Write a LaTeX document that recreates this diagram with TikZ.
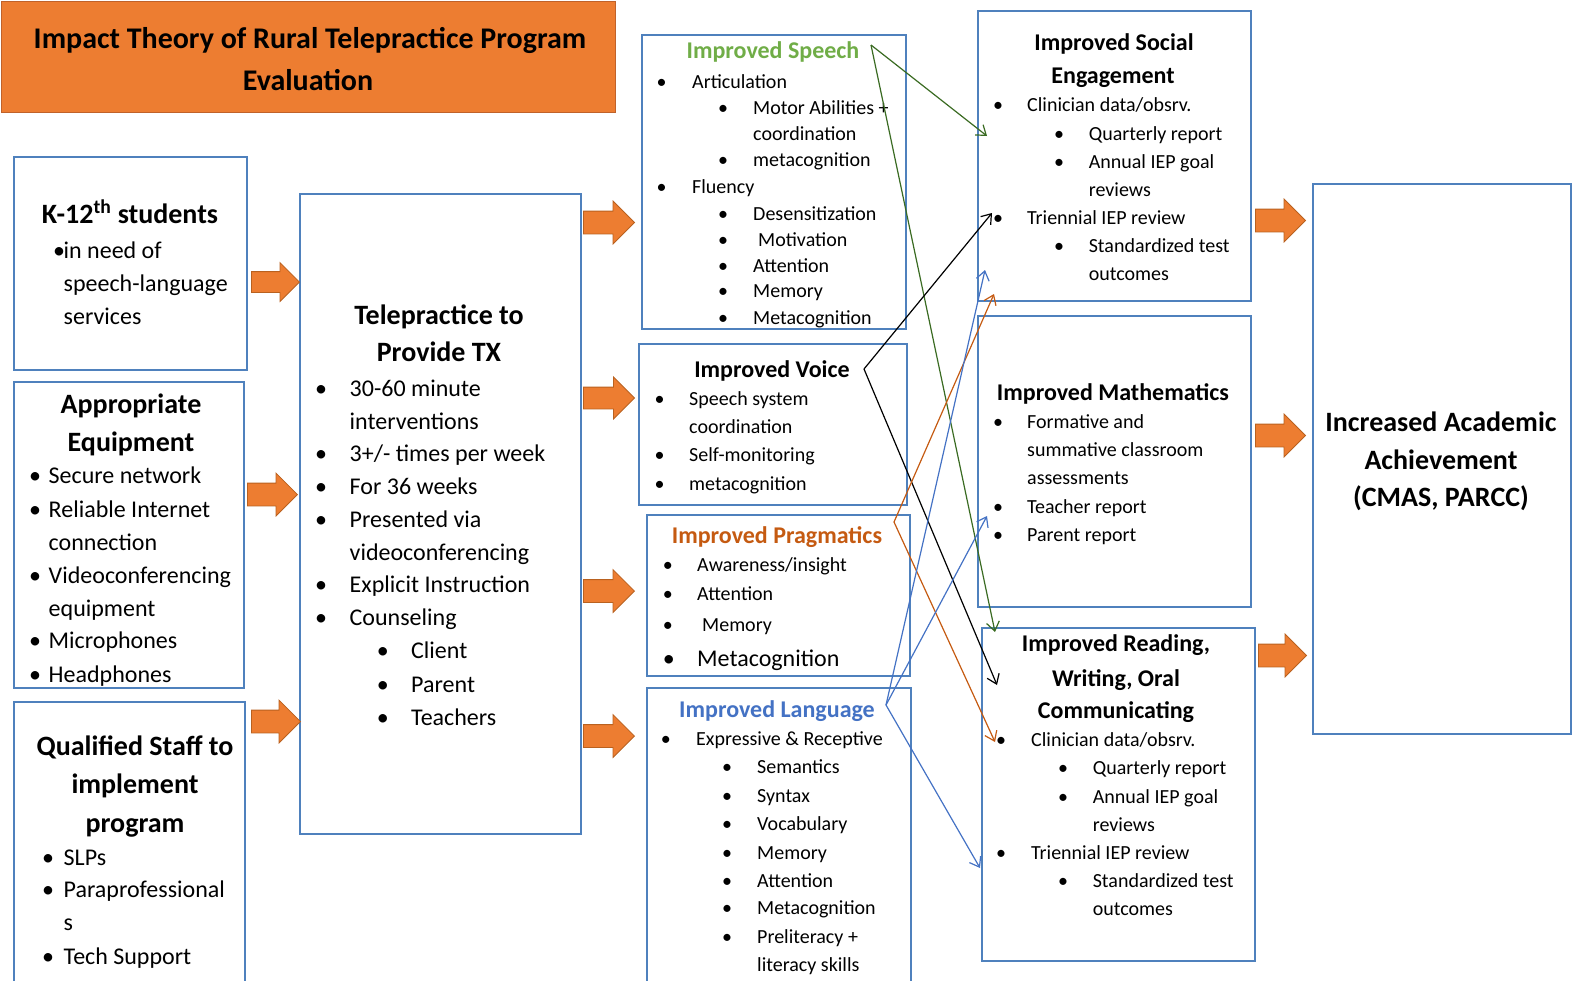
\documentclass[tikz,border=0pt]{standalone}
\usepackage{fontspec}
\setmainfont{Carlito}
\usetikzlibrary{shapes.arrows,arrows.meta}

\definecolor{boxblue}{HTML}{4F81BD}
\definecolor{blockorange}{HTML}{ED7D31}
\definecolor{blockedge}{HTML}{B9611F}
\definecolor{titleedge}{HTML}{C0622A}
\definecolor{speechgreen}{HTML}{70AD47}
\definecolor{pragorange}{HTML}{C55A11}
\definecolor{langblue}{HTML}{4472C4}
\definecolor{linegreen}{HTML}{3A6B22}

\newcounter{lnc}
% one text line, left aligned on its baseline
\newcommand\Ln[3]{\stepcounter{lnc}\node[txt] (ln\arabic{lnc}) at (#1,#2) {#3};}
% bullet at x=#1, text at x=#2, baseline y=#3
\newcommand\Bu[4]{\stepcounter{lnc}\node[txt] (bu\arabic{lnc}) at (#1,#3) {•};\node[txt] (ln\arabic{lnc}) at (#2,#3) {#4};}
% centred heading line
\newcommand\Hd[3]{\stepcounter{lnc}\node[hdtxt] (hd\arabic{lnc}) at (#1,#2) {#3};}

\tikzset{
  box/.style={draw=boxblue, line width=1.6pt, fill=white, anchor=north west, inner sep=0pt},
  titlebox/.style={draw=titleedge, line width=1.2pt, fill=blockorange, anchor=north west, inner sep=0pt},
  txt/.style={inner sep=0pt, anchor=base west},
  hdtxt/.style={inner sep=0pt, anchor=base},
  blk/.style={single arrow, draw=blockedge, line width=0.8pt, fill=blockorange,
    inner xsep=0pt, inner ysep=11pt, single arrow head extend=10pt,
    minimum height=51pt, shape border rotate=0, anchor=tip},
  link/.style={line width=1.2pt, -{Straight Barb[length=9pt,width=13pt]}},
  big/.style={font=\bfseries\fontsize{28}{34}\selectfont},
  mid/.style={font=\bfseries\fontsize{24}{29}\selectfont},
  body/.style={font=\fontsize{24}{29}\selectfont},
  small/.style={font=\fontsize{20}{24}\selectfont},
}

\begin{document}
\begin{tikzpicture}[x=1pt,y=-1pt]
\useasboundingbox (0,0) rectangle (1579,980);
\clip (0,0) rectangle (1579,980);

% ---------------- boxes ----------------
\node[titlebox, minimum width=614pt, minimum height=111pt] (title) at (1,1) {};
\node[box, minimum width=233pt, minimum height=213pt] (k12) at (13,156) {};
\node[box, minimum width=230pt, minimum height=306pt] (equip) at (13,381) {};
\node[box, minimum width=231pt, minimum height=300pt] (staff) at (13,701) {};
\node[box, minimum width=281pt, minimum height=640pt] (tele) at (299,193) {};
\node[box, minimum width=264pt, minimum height=294pt] (speech) at (641,34) {};
\node[box, minimum width=268pt, minimum height=161pt] (voice) at (638,343) {};
\node[box, minimum width=263pt, minimum height=161pt] (prag) at (646,514) {};
\node[box, minimum width=264pt, minimum height=300pt] (lang) at (646,687) {};
\node[box, minimum width=273pt, minimum height=290pt] (social) at (977,10) {};
\node[box, minimum width=273pt, minimum height=291pt] (math) at (977,315) {};
\node[box, minimum width=273pt, minimum height=333pt] (read) at (981,627) {};
\node[box, minimum width=258pt, minimum height=550pt] (acad) at (1312,183) {};

% ---------------- title ----------------
\begin{scope}[every node/.append style={font=\bfseries\fontsize{30}{36}\selectfont}]
\Hd{310}{48}{Impact Theory of Rural Telepractice Program}
\Hd{308}{90}{Evaluation}
\end{scope}

% ---------------- inputs ----------------
\begin{scope}[every node/.append style=big]
\Hd{130}{223}{K-12\textsuperscript{th} students}
\Hd{131}{413}{Appropriate}
\Hd{131}{451}{Equipment}
\Hd{135}{755}{Qualified Staff to}
\Hd{135}{793}{implement}
\Hd{135}{832}{program}
\Hd{439}{324}{Telepractice to}
\Hd{439}{361}{Provide TX}
\Hd{1441}{431}{Increased Academic}
\Hd{1441}{469}{Achievement}
\Hd{1441}{506}{(CMAS, PARCC)}
\end{scope}

\begin{scope}[every node/.append style=body]
\Bu{53}{63.5}{258}{in need of}
\Ln{63.5}{291}{speech-language}
\Ln{63.5}{324}{services}

\Bu{29}{48.5}{483}{Secure network}
\Bu{29}{48.5}{517}{Reliable Internet}
\Ln{48.5}{550}{connection}
\Bu{29}{48.5}{583}{Videoconferencing}
\Ln{48.5}{616}{equipment}
\Bu{29}{48.5}{648}{Microphones}
\Bu{29}{48.5}{682}{Headphones}

\Bu{42}{63.5}{865}{SLPs}
\Bu{42}{63.5}{897}{Paraprofessional}
\Ln{63.5}{930}{s}
\Bu{42}{63.5}{964}{Tech Support}

\Bu{315}{349.5}{396}{30-60 minute}
\Ln{349.5}{429}{interventions}
\Bu{315}{349.5}{461}{3+/- times per week}
\Bu{315}{349.5}{494}{For 36 weeks}
\Bu{315}{349.5}{527}{Presented via}
\Ln{349.5}{560}{videoconferencing}
\Bu{315}{349.5}{592}{Explicit Instruction}
\Bu{315}{349.5}{625}{Counseling}
\Bu{376.6}{411}{658.5}{Client}
\Bu{376.6}{411}{692}{Parent}
\Bu{376.6}{411}{725}{Teachers}
\end{scope}

% ---------------- outcome headings ----------------
\begin{scope}[every node/.append style=mid]
\Hd{773}{58}{\color{speechgreen}Improved Speech}
\Hd{772}{377}{Improved Voice}
\Hd{777}{543}{\color{pragorange}Improved Pragmatics}
\Hd{777}{717}{\color{langblue}Improved Language}
\Hd{1114}{50.5}{Improved Social}
\Hd{1113}{83}{Engagement}
\Hd{1113}{400}{Improved Mathematics}
\Hd{1116}{651.5}{Improved Reading,}
\Hd{1116}{686}{Writing, Oral}
\Hd{1116}{718}{Communicating}
\end{scope}

% ---------------- outcome details ----------------
\begin{scope}[every node/.append style=small]
% speech
\Bu{656.5}{692}{88}{Articulation}
\Bu{718}{753}{114}{Motor Abilities +}
\Ln{753}{140}{coordination}
\Bu{718}{753}{166}{metacognition}
\Bu{656.5}{692}{193}{Fluency}
\Bu{718}{753}{220}{Desensitization}
\Bu{718}{758}{246}{Motivation}
\Bu{718}{753}{272}{Attention}
\Bu{718}{753}{297}{Memory}
\Bu{718}{753}{324}{Metacognition}
% voice
\Bu{654.5}{689}{405}{Speech system}
\Ln{689}{433}{coordination}
\Bu{654.5}{689}{461}{Self-monitoring}
\Bu{654.5}{689}{490}{metacognition}
% pragmatics
\Bu{662.6}{697}{571}{Awareness/insight}
\Bu{662.6}{697}{600.5}{Attention}
\Bu{662.6}{702}{631}{Memory}
% language
\Bu{660.6}{696}{745.5}{Expressive \& Receptive}
\Bu{722}{757}{773.5}{Semantics}
\Bu{722}{757}{802}{Syntax}
\Bu{722}{757}{830}{Vocabulary}
\Bu{722}{757}{859.5}{Memory}
\Bu{722}{757}{887.5}{Attention}
\Bu{722}{757}{914.5}{Metacognition}
\Bu{722}{757}{943}{Preliteracy +}
\Ln{757}{971}{literacy skills}
% social engagement
\Bu{993}{1027}{111}{Clinician data/obsrv.}
\Bu{1054}{1088.6}{140.5}{Quarterly report}
\Bu{1054}{1088.6}{168.5}{Annual IEP goal}
\Ln{1088.6}{196.5}{reviews}
\Bu{993}{1027}{224}{Triennial IEP review}
\Bu{1054}{1088.6}{252}{Standardized test}
\Ln{1088.6}{280.5}{outcomes}
% mathematics
\Bu{993}{1027}{428.5}{Formative and}
\Ln{1027}{456.5}{summative classroom}
\Ln{1027}{484.5}{assessments}
\Bu{993}{1027}{513}{Teacher report}
\Bu{993}{1027}{541}{Parent report}
% reading, writing, oral communicating
\Bu{996}{1031}{746.5}{Clinician data/obsrv.}
\Bu{1058}{1092.6}{774.5}{Quarterly report}
\Bu{1058}{1092.6}{803}{Annual IEP goal}
\Ln{1092.6}{831}{reviews}
\Bu{996}{1031}{859.5}{Triennial IEP review}
\Bu{1058}{1092.6}{887.5}{Standardized test}
\Ln{1092.6}{915.5}{outcomes}
\end{scope}
\begin{scope}[every node/.append style=body]
\Bu{662.6}{697}{666}{Metacognition}
\end{scope}

% ---------------- block arrows (placed by their tips) ----------------
\node[blk, inner ysep=10pt, single arrow head extend=9pt, minimum height=48pt] (a1) at (300,282) {};
\node[blk, minimum height=50pt] (a2) at (298,494.5) {};
\node[blk, minimum height=49pt] (a3) at (301,721.5) {};
\node[blk] (a4) at (635,222.5) {};
\node[blk, inner ysep=10.5pt] (a5) at (635,398) {};
\node[blk] (a6) at (635,591) {};
\node[blk] (a7) at (635,736) {};
\node[blk, minimum height=50pt] (a8) at (1306,220.5) {};
\node[blk, minimum height=50pt] (a9) at (1306,435.5) {};
\node[blk, minimum height=48pt] (a10) at (1307,655.5) {};

% ---------------- cross links ----------------
\coordinate (gS) at (871,45);
\coordinate (gE1) at (987,136);
\coordinate (gE2) at (995,632);
\coordinate (kS) at (864,369);
\coordinate (kE1) at (992,213);
\coordinate (kE2) at (997,685);
\coordinate (oS) at (894,522);
\coordinate (oE1) at (994,294);
\coordinate (oE2) at (995,742);
\coordinate (bS) at (886,705);
\coordinate (bE1) at (985,270);
\coordinate (bE2) at (987,516);
\coordinate (bE3) at (980,868);

\draw[link, linegreen] (gS) -- (gE1);
\draw[link, linegreen] (gS) -- (gE2);
\draw[link, black] (kS) -- (kE1);
\draw[link, black] (kS) -- (kE2);
\draw[link, pragorange] (oS) -- (oE1);
\draw[link, pragorange] (oS) -- (oE2);
\draw[link, langblue] (bS) -- (bE1);
\draw[link, langblue] (bS) -- (bE2);
\draw[link, langblue] (bS) -- (bE3);
\end{tikzpicture}
\end{document}
